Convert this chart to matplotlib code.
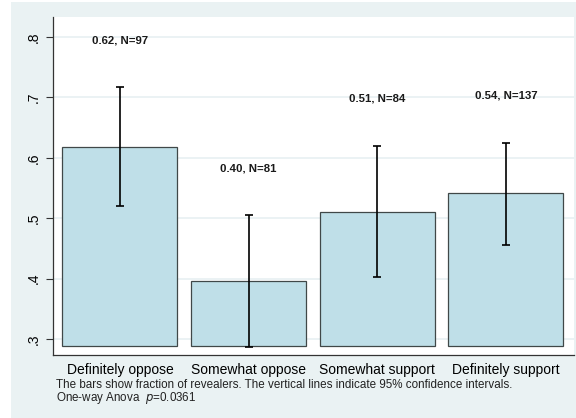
import numpy as np
import matplotlib
matplotlib.use('Agg')
import matplotlib.pyplot as plt
from matplotlib.patches import Rectangle

plt.rcParams['font.family'] = ['Liberation Sans', 'DejaVu Sans']

# Fraction of revealers by attitude group
groups = ['Definitely oppose', 'Somewhat oppose', 'Somewhat support', 'Definitely support']
means = [0.618, 0.396, 0.511, 0.541]
ci_low = [0.520, 0.287, 0.403, 0.456]
ci_high = [0.717, 0.505, 0.620, 0.625]
counts = [97, 81, 84, 137]
yticks = [0.3, 0.4, 0.5, 0.6, 0.7, 0.8]
ytick_labels = ['.3', '.4', '.5', '.6', '.7', '.8']

W, H = 576, 418
fig = plt.figure(figsize=(W / 100, H / 100), dpi=100)
fig.patch.set_facecolor('white')

# Stata-style outer background
fig.patches.append(Rectangle((11 / W, 0), 1 - 11 / W, 1 - 2 / H,
                             transform=fig.transFigure, facecolor='#eaf2f3',
                             edgecolor='none', zorder=-10))

ax = fig.add_axes([53 / W, 1 - 355 / H, (574 - 53) / W, (355 - 17) / H])
ax.set_zorder(1)
ax.set_facecolor('white')

base = 0.2883
x = np.arange(len(groups))
ax.bar(x, np.array(means) - base, bottom=base, width=0.894,
       color='#bfdfe8', edgecolor='#404848', linewidth=0.9, zorder=2)

err = [np.array(means) - np.array(ci_low), np.array(ci_high) - np.array(means)]
ax.errorbar(x, means, yerr=err, fmt='none', ecolor='black', elinewidth=1.2,
            capsize=2.6, capthick=1.2, zorder=3)

for xi, m, hi, n in zip(x, means, ci_high, counts):
    ax.text(xi, hi + 0.078, f'{m:.2f}, N={n}', ha='center', va='center',
            fontsize=8.2, fontweight='bold', color='#1a1a1a')

ax.set_xlim(-0.52, 3.53)
ax.set_ylim(0.2733, 0.8333)
ax.set_yticks(yticks)
ax.set_yticklabels(ytick_labels, rotation=90, va='center', fontsize=10)
ax.set_xticks(x)
ax.set_xticklabels(groups, fontsize=10)
ax.tick_params(axis='x', length=0, pad=6)
ax.tick_params(axis='y', length=5, width=0.8, color='#333333', pad=4)
ax.grid(axis='y', color='#e8f0f2', linewidth=1.2, zorder=0)
ax.set_axisbelow(True)
for s in ['top', 'right']:
    ax.spines[s].set_visible(False)
for s in ['left', 'bottom']:
    ax.spines[s].set_color('#333333')
    ax.spines[s].set_linewidth(0.9)

fig.text(56 / W, 1 - 385 / H,
         'The bars show fraction of revealers. The vertical lines indicate 95% confidence intervals.',
         fontsize=8.33, va='center', color='#222222')
fig.text(56 / W, 1 - 398 / H, r'One-way Anova  $\it{p}$=0.0361',
         fontsize=8.33, va='center', color='#222222')

fig.savefig('out.png', dpi=100, facecolor=fig.get_facecolor())
